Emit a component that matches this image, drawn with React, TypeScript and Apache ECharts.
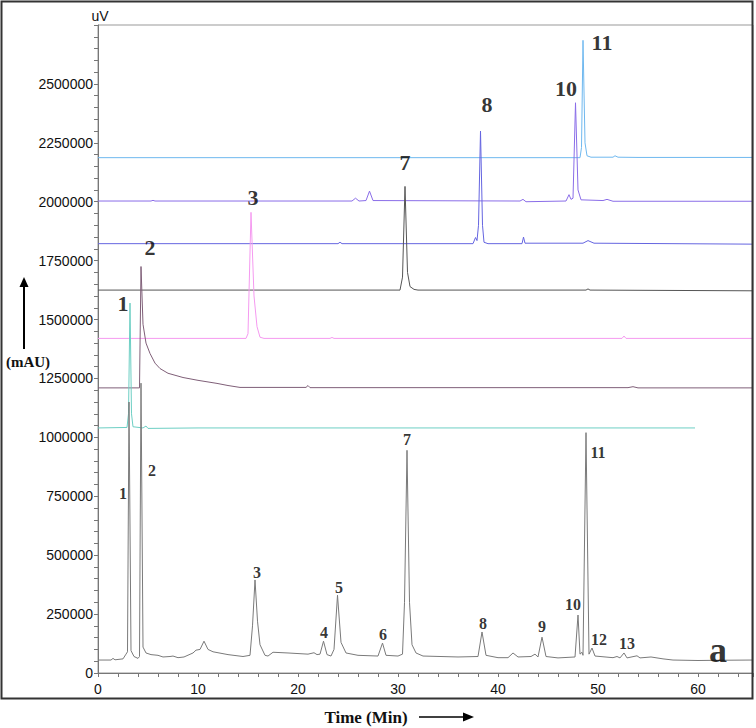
import React, { useEffect, useRef } from "react";
import * as echarts from "echarts";

// Chromatogram traces: [time (min), signal (uV)]
const traceA: number[][] = [
  [0, 55000], [1.3, 55000], [1.5, 62000], [1.7, 56000], [2.5, 60000], [2.8, 80000], [2.95, 90000],
  [3.1, 1150000], [3.3, 95000], [3.6, 70000], [4.0, 62000], [4.15, 70000], [4.3, 1230000],
  [4.5, 110000], [4.8, 85000], [5.3, 78000], [6.0, 75000], [6.5, 68000], [7.2, 70000], [7.5, 72000],
  [8.0, 65000], [8.6, 68000], [9.5, 85000], [9.8, 97000], [10.2, 100000], [10.6, 135000],
  [11.0, 100000], [11.5, 90000], [13.0, 78000], [14.5, 70000], [15.2, 75000], [15.45, 200000],
  [15.7, 395000], [15.95, 220000], [16.2, 120000], [16.7, 75000], [17.0, 72000], [17.5, 88000],
  [19, 85000], [21, 80000], [21.6, 86000], [21.9, 78000], [22.2, 80000], [22.55, 135000],
  [22.9, 78000], [23.3, 72000], [23.6, 100000], [23.95, 330000], [24.3, 130000], [24.8, 85000],
  [26, 75000], [28, 72000], [28.45, 127000], [28.8, 75000], [30, 72000], [30.45, 80000],
  [30.65, 300000], [30.9, 945000], [31.15, 300000], [31.4, 120000], [31.8, 85000], [32.5, 72000],
  [36, 68000], [38.0, 70000], [38.4, 174000], [38.8, 75000], [40, 65000], [41.0, 65000],
  [41.5, 85000], [42, 68000], [43.3, 70000], [43.7, 80000], [44.0, 68000], [44.4, 152000],
  [44.8, 70000], [46, 64000], [47.7, 68000], [48.0, 246000], [48.2, 80000], [48.4, 88000],
  [48.5, 75000], [48.8, 1020000], [49.1, 80000], [49.4, 106000], [49.7, 72000], [51.5, 65000],
  [51.9, 70000], [52.2, 64000], [52.6, 85000], [52.9, 64000], [53.9, 73000], [54.2, 64000],
  [55.3, 68000], [56.5, 60000], [57.5, 55000], [60, 53000], [62, 54000], [65.5, 55000],
];

const trace1: number[][] = [
  [0, 1040000], [2.9, 1042000], [3.05, 1100000], [3.2, 1570000], [3.35, 1100000], [3.5, 1045000],
  [4.5, 1040000], [4.8, 1048000], [5.0, 1038000], [10, 1040000], [30, 1040000], [59.7, 1040000],
];

const trace2: number[][] = [
  [0, 1210000], [4.15, 1210000], [4.3, 1725000], [4.5, 1480000], [4.8, 1400000], [5.2, 1356000],
  [5.7, 1315000], [6.2, 1292000], [7.0, 1272000], [8.5, 1254000], [10, 1242000], [11.9, 1229000],
  [13, 1220000], [14.2, 1212000], [20.8, 1212000], [21.0, 1220000], [21.2, 1211000],
  [53, 1211000], [53.5, 1215000], [54, 1210000], [65.5, 1210000],
];

const trace3: number[][] = [
  [0, 1420000], [14.8, 1420000], [15.0, 1440000], [15.3, 1955000], [15.6, 1600000],
  [15.9, 1470000], [16.2, 1425000], [16.6, 1420000], [23.2, 1420000], [23.4, 1424000],
  [23.6, 1420000], [52.4, 1420000], [52.6, 1430000], [52.8, 1420000], [65.5, 1420000],
];

const trace7: number[][] = [
  [0, 1625000], [30.2, 1625000], [30.45, 1680000], [30.7, 2065000], [30.95, 1700000],
  [31.2, 1640000], [31.6, 1628000], [32, 1625000], [48.8, 1625000], [49, 1630000],
  [49.2, 1625000], [65.5, 1622000],
];

const trace8: number[][] = [
  [0, 1822000], [24.0, 1822000], [24.2, 1828000], [24.4, 1822000], [37.5, 1822000],
  [37.75, 1848000], [37.9, 1835000], [38.05, 1900000], [38.25, 2300000], [38.45, 1900000],
  [38.6, 1828000], [39, 1822000], [42.4, 1822000], [42.55, 1850000], [42.7, 1824000],
  [48.5, 1824000], [49.0, 1835000], [49.6, 1824000], [65.5, 1820000],
];

const trace10: number[][] = [
  [0, 2003000], [5.3, 2003000], [5.5, 2006000], [5.7, 2003000], [25.4, 2003000],
  [25.75, 2015000], [26.1, 2003000], [26.8, 2005000], [27.15, 2045000], [27.5, 2005000],
  [42.2, 2003000], [42.5, 2010000], [42.8, 2000000], [46.8, 2003000], [47.1, 2030000],
  [47.3, 2010000], [47.5, 2015000], [47.75, 2420000], [48.0, 2050000], [48.3, 2008000],
  [50.5, 2005000], [50.9, 2010000], [51.5, 2002000], [65.5, 2002000],
];

const trace11: number[][] = [
  [0, 2187000], [48.2, 2187000], [48.35, 2230000], [48.5, 2685000], [48.7, 2250000],
  [48.9, 2195000], [49.3, 2189000], [51.5, 2189000], [51.7, 2195000], [52, 2189000],
  [54, 2188000], [65.5, 2188000],
];

// Peak labels
const lowerLabels = [
  { name: "1", value: [2.5, 763000] },
  { name: "2", value: [5.4, 860000] },
  { name: "3", value: [15.9, 428000] },
  { name: "4", value: [22.6, 170000] },
  { name: "5", value: [24.1, 364000] },
  { name: "6", value: [28.5, 165000] },
  { name: "7", value: [30.9, 992000] },
  { name: "8", value: [38.5, 208000] },
  { name: "9", value: [44.4, 199000] },
  { name: "10", value: [47.5, 292000] },
  { name: "11", value: [50.0, 936000] },
  { name: "12", value: [50.1, 144000] },
  { name: "13", value: [52.9, 127000] },
];

const upperLabels = [
  { name: "1", value: [2.5, 1568000] },
  { name: "2", value: [5.2, 1805000] },
  { name: "3", value: [15.5, 2017000] },
  { name: "7", value: [30.7, 2165000] },
  { name: "8", value: [38.9, 2411000] },
  { name: "10", value: [46.8, 2479000] },
  { name: "11", value: [50.4, 2674000] },
];

const panelLabel = [{ name: "a", value: [62.0, 97000] }];

const X_MIN = 0;
const X_MAX = 65.5;
const Y_MIN = 0;
const Y_MAX = 2750000;

export default function App() {
  const ref = useRef<HTMLDivElement>(null);

  useEffect(() => {
    document.body.style.margin = "0";
    if (!ref.current) return;
    const chart = echarts.init(ref.current, undefined, { renderer: "svg" });

    const line = (data: number[][], color: string, z = 2) => ({
      type: "line",
      data,
      symbol: "none",
      smooth: false,
      silent: true,
      z,
      lineStyle: { color, width: 1 },
    });

    const labelSeries = (data: any[], size: number) => ({
      type: "scatter",
      data,
      symbolSize: 1,
      silent: true,
      z: 5,
      itemStyle: { color: "rgba(0,0,0,0)" },
      label: {
        show: true,
        position: "inside",
        formatter: (p: any) => p.name,
        fontFamily: "Liberation Serif",
        fontWeight: "bold",
        fontSize: size,
        color: "#000",
        textBorderWidth: 0,
        textBorderColor: "transparent",
      },
    });

    const serif = "Liberation Serif";

    chart.setOption({
      animation: false,
      grid: {
        left: 98,
        right: 3,
        top: 25,
        bottom: 55,
        show: true,
        borderColor: "#999",
        borderWidth: 1,
      },
      xAxis: {
        type: "value",
        min: X_MIN,
        max: X_MAX,
        interval: 2,
        axisLine: { show: true, lineStyle: { color: "#777", width: 1 } },
        axisTick: { show: true, length: 4, lineStyle: { color: "#777" } },
        splitLine: { show: false },
        axisLabel: {
          margin: 9,
          fontSize: 14,
          fontFamily: "Liberation Sans",
          color: "#111",
          formatter: (v: number) => (Math.abs(v % 10) < 1e-9 ? String(v) : ""),
        },
      },
      yAxis: {
        type: "value",
        min: Y_MIN,
        max: Y_MAX,
        interval: 50000,
        name: "uV",
        nameLocation: "end",
        nameGap: 2,
        nameTextStyle: { fontSize: 14, fontFamily: "Liberation Sans", color: "#111", padding: [0, 0, 0, 4] },
        axisLine: { show: true, lineStyle: { color: "#777", width: 1 } },
        axisTick: { show: true, length: 4, lineStyle: { color: "#777" } },
        splitLine: { show: false },
        axisLabel: {
          margin: 5,
          fontSize: 14,
          fontFamily: "Liberation Sans",
          color: "#111",
          formatter: (v: number) =>
            Math.abs(v % 250000) < 1e-6 && v < Y_MAX ? String(v) : "",
        },
      },
      series: [
        line(trace11, "#6fb8ef"),
        line(trace10, "#8a6de8"),
        line(trace8, "#6565e0"),
        line(trace7, "#555555"),
        line(trace3, "#f59af0"),
        line(trace2, "#7f5f78"),
        line(trace1, "#6dcfc4"),
        line(traceA, "#7a7a7a", 3),
        labelSeries(lowerLabels, 16),
        labelSeries(upperLabels, 22),
        labelSeries(panelLabel, 36),
      ],
      graphic: [
        {
          type: "rect",
          shape: { x: 1.5, y: 1.5, width: 751, height: 697 },
          style: { fill: "none", stroke: "#333", lineWidth: 2 },
          silent: true,
          z: 10,
        },
        {
          type: "line",
          shape: { x1: 24, y1: 349, x2: 24, y2: 285 },
          style: { stroke: "#000", lineWidth: 2 },
          silent: true,
        },
        {
          type: "polygon",
          shape: { points: [[24, 277], [19.5, 287], [28.5, 287]] },
          style: { fill: "#000" },
          silent: true,
        },
        {
          type: "text",
          x: 28,
          y: 362,
          style: {
            text: "(mAU)",
            fontFamily: serif,
            fontWeight: "bold",
            fontSize: 15,
            fill: "#111",
            align: "center",
            verticalAlign: "middle",
          },
          silent: true,
        },
        {
          type: "text",
          x: 366,
          y: 717,
          style: {
            text: "Time (Min)",
            fontFamily: serif,
            fontWeight: "bold",
            fontSize: 17,
            fill: "#111",
            align: "center",
            verticalAlign: "middle",
          },
          silent: true,
        },
        {
          type: "line",
          shape: { x1: 419, y1: 717, x2: 465, y2: 717 },
          style: { stroke: "#000", lineWidth: 1.5 },
          silent: true,
        },
        {
          type: "polygon",
          shape: { points: [[474, 717], [463, 712.5], [463, 721.5]] },
          style: { fill: "#000" },
          silent: true,
        },
      ],
    });

    return () => chart.dispose();
  }, []);

  return (
    <div
      ref={ref}
      style={{ width: 756, height: 728, position: "absolute", left: 0, top: 0, background: "#fff" }}
    />
  );
}
